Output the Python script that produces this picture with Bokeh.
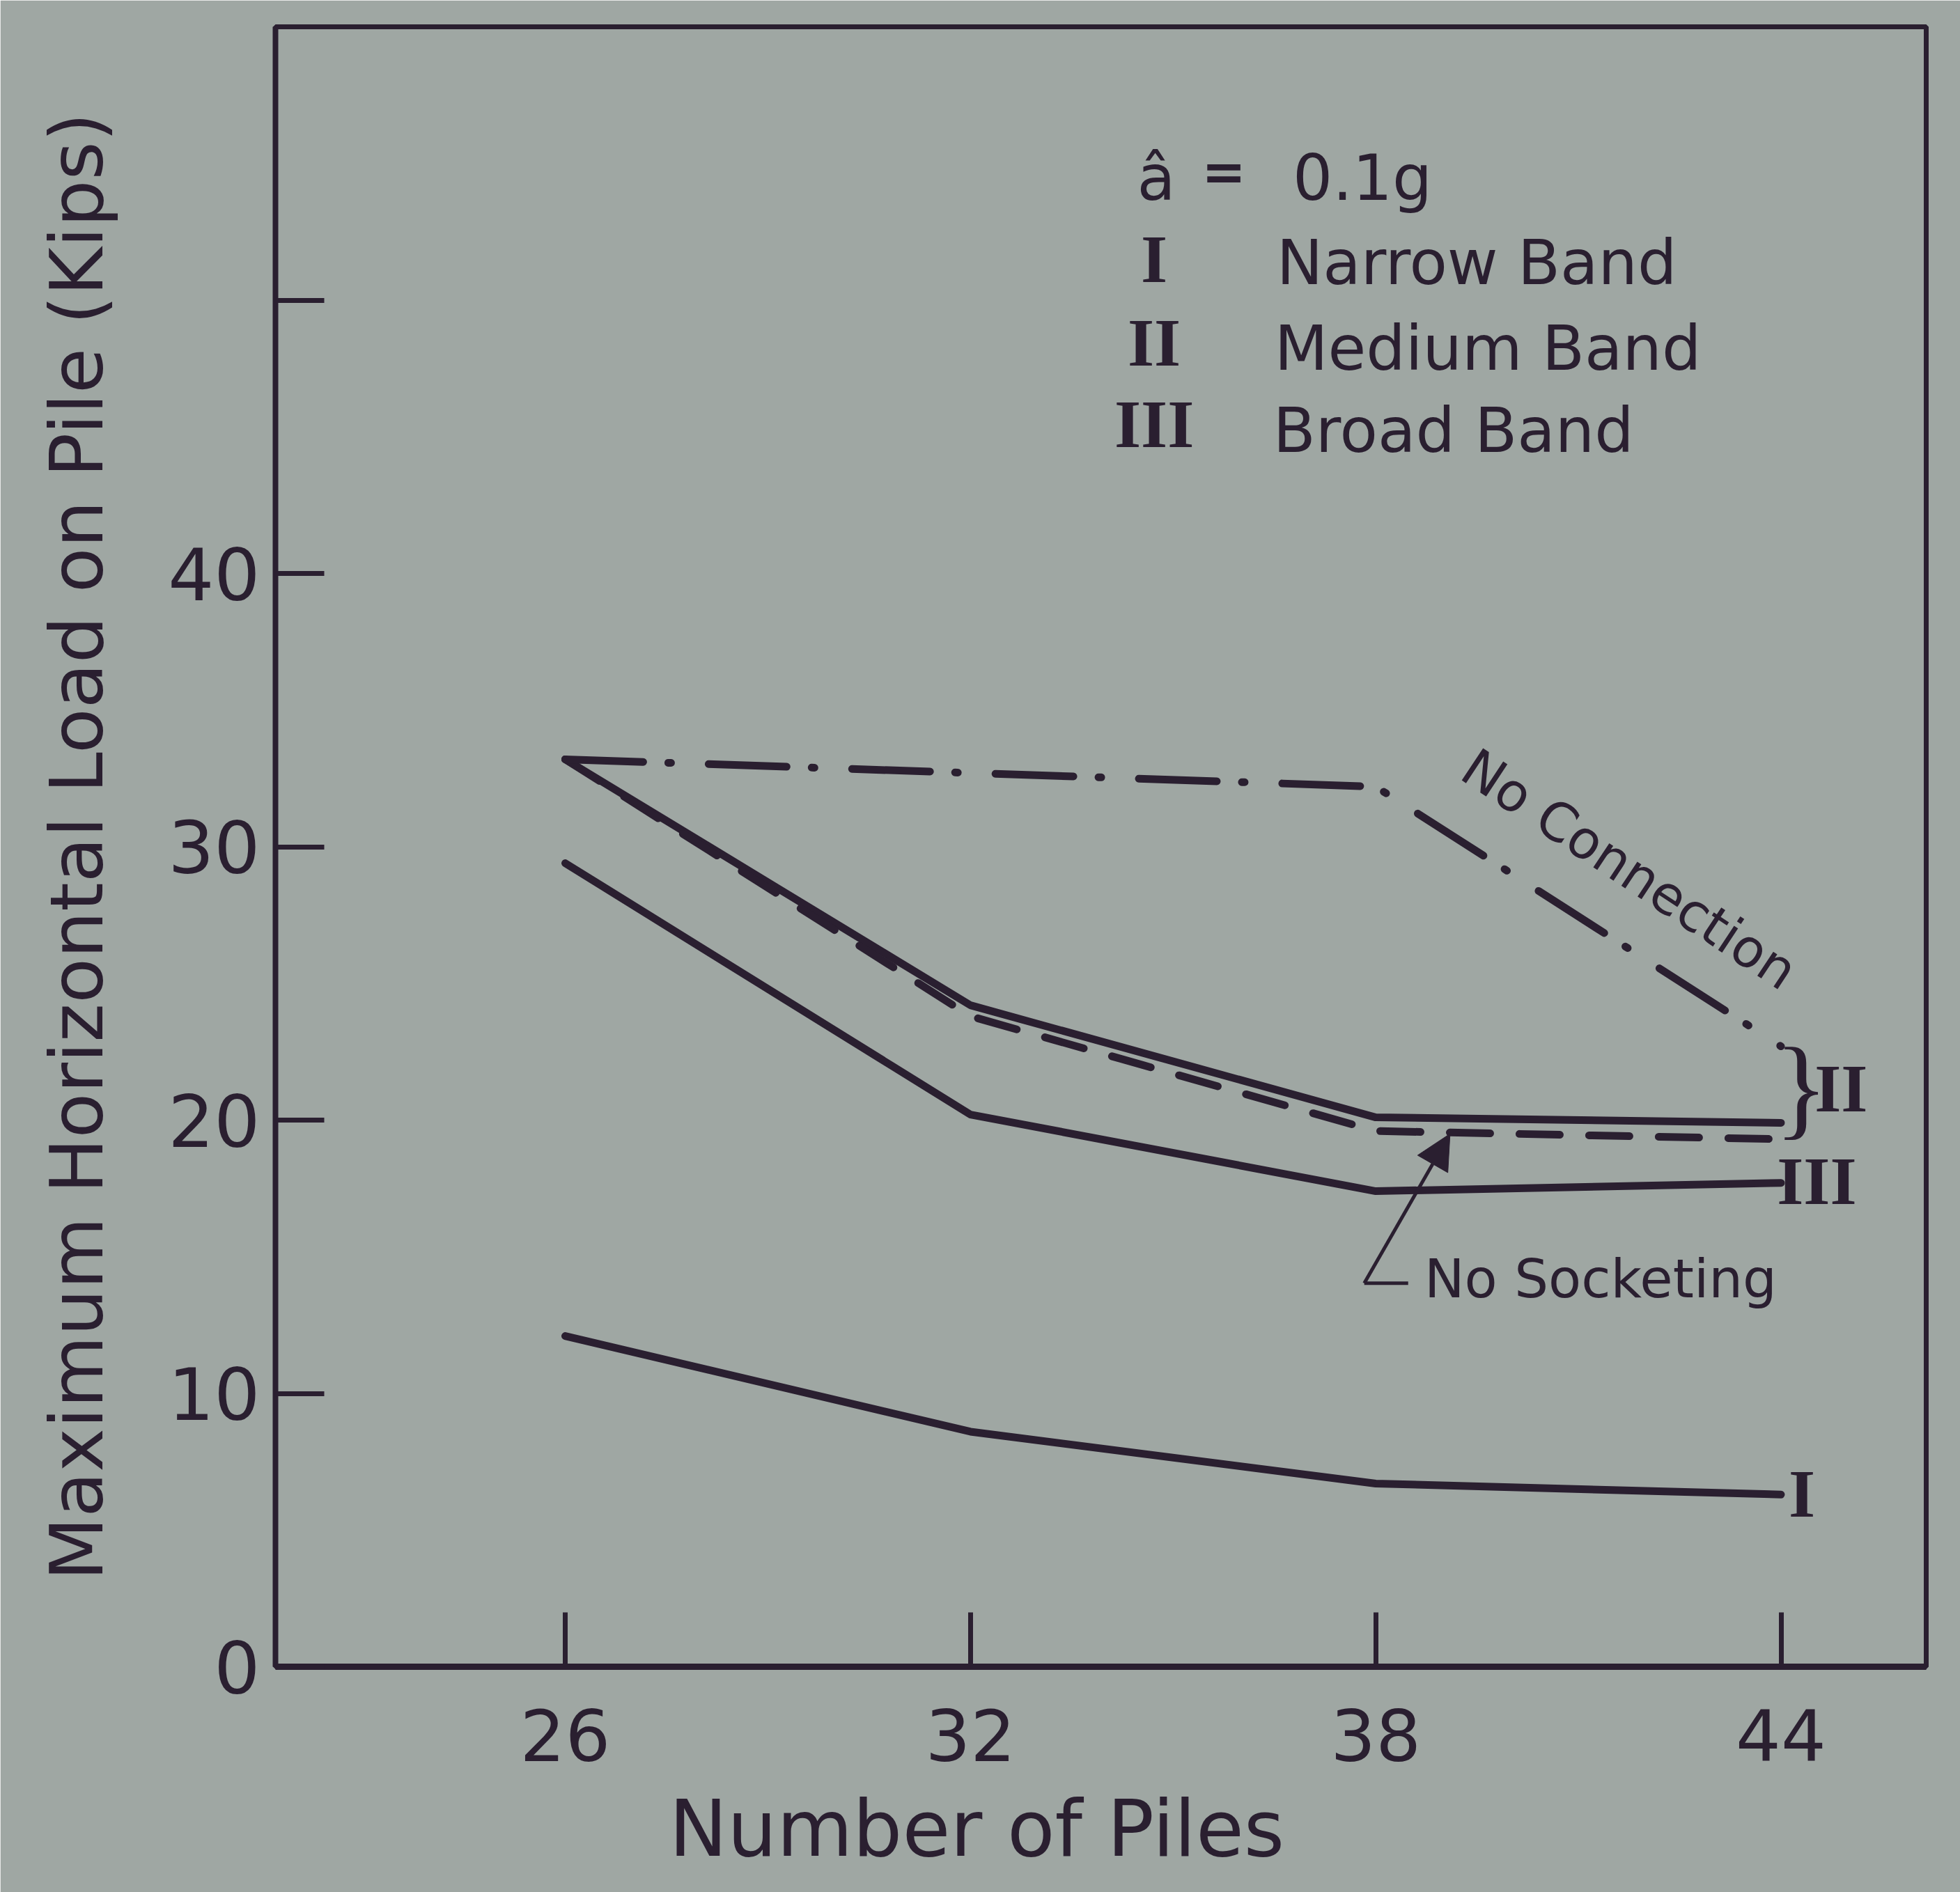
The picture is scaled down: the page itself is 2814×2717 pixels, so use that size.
from bokeh.plotting import figure
from bokeh.models import Label, Arrow, NormalHead, FixedTicker, Range1d, Title
from bokeh.embed import file_html
from bokeh.resources import INLINE

# ---------------- data ----------------
piles = [26, 32, 38, 44]
narrow_band_I = [12.1, 8.6, 6.7, 6.3]
broad_band_III = [29.4, 20.2, 17.4, 17.7]
medium_band_II = [33.2, 24.2, 20.1, 19.9]
medium_no_socketing = [33.2, 23.8, 19.6, 19.3]
no_connection = [33.2, 32.7, 32.2, 22.7]

x_ticks = [26, 32, 38, 44]
y_ticks = [0, 10, 20, 30, 40, 50]
y_tick_labels = ["0", "10", "20", "30", "40", ""]

legend_roman = ["I", "II", "III"]
legend_names = ["Narrow Band", "Medium Band", "Broad Band"]

# ---------------- style ----------------
INK = "#2a1f30"
BG = "#9fa7a3"
FONT = "DejaVu Sans"
SERIF = "Liberation Serif"
LIFT = 0.9  # baseline correction for labels (data units)

p = figure(width=2814, height=2717, output_backend="svg", toolbar_location=None,
           x_range=Range1d(21.71, 46.15), y_range=Range1d(0, 60),
           min_border_left=395, min_border_right=49,
           min_border_top=38, min_border_bottom=322)
p.background_fill_color = BG
p.border_fill_color = BG
p.outline_line_color = INK
p.outline_line_width = 7
p.grid.visible = False

xa = p.xaxis[0]
xa.ticker = FixedTicker(ticks=x_ticks)
xa.major_tick_in = 78
xa.major_tick_out = 0
xa.minor_tick_line_color = None
xa.axis_line_width = 9
xa.axis_line_color = INK
xa.major_tick_line_width = 7
xa.major_tick_line_color = INK
xa.major_label_text_font = FONT
xa.major_label_text_font_size = "102px"
xa.major_label_text_color = INK
xa.major_label_standoff = 60

ya = p.yaxis[0]
ya.ticker = FixedTicker(ticks=y_ticks)
ya.major_label_overrides = dict(zip(y_ticks, y_tick_labels))
ya.major_tick_in = 70
ya.major_tick_out = 0
ya.minor_tick_line_color = None
ya.axis_line_width = 8
ya.axis_line_color = INK
ya.major_tick_line_width = 7
ya.major_tick_line_color = INK
ya.major_label_text_font = FONT
ya.major_label_text_font_size = "104px"
ya.major_label_text_color = INK
ya.major_label_standoff = 22
ya.axis_label = "Maximum Horizontal Load on Pile (Kips)"
ya.axis_label_text_font = FONT
ya.axis_label_text_font_size = "106px"
ya.axis_label_text_font_style = "normal"
ya.axis_label_text_color = INK
ya.axis_label_standoff = 66

# x axis title, placed left of the frame centre as in the original
p.add_layout(Title(text="Number of Piles", align="left", offset=565, standoff=54,
                   text_font=FONT, text_font_size="112px", text_font_style="normal",
                   text_color=INK), "below")

# ---------------- curves ----------------
common = dict(line_color=INK, line_width=11, line_join="round")
p.line(piles, narrow_band_I, line_cap="round", **common)
p.line(piles, broad_band_III, line_cap="round", **common)
p.line(piles, medium_band_II, line_cap="round", **common)
p.line(piles, medium_no_socketing, line_dash="58 42", line_cap="round", **common)
p.line(piles, no_connection, line_dash="112 36 4 54", line_cap="round", **common)


def label(x, y, text, size, font=FONT, align="left", angle=0, style="normal"):
    p.add_layout(Label(x=x, y=y + LIFT, text=text, text_font=font, text_font_size=size,
                       text_color=INK, text_align=align, text_baseline="alphabetic",
                       text_font_style=style, angle=angle, angle_units="deg"))


# legend block
label(34.75, 53.56, "\u00e2", "90px", align="center")
label(35.75, 53.8, "=", "76px", align="center", style="bold")
label(36.77, 53.56, "0.1g", "90px")
legend_y_roman = [50.61, 47.55, 44.56]
legend_y_text = [50.47, 47.33, 44.33]
legend_x_text = [36.53, 36.50, 36.48]
for r, n, yr, yt, xt in zip(legend_roman, legend_names, legend_y_roman, legend_y_text, legend_x_text):
    label(34.72, yr, r, "98px", font=SERIF, align="center", style="bold")
    label(xt, yt, n, "89px")

# curve annotations
label(39.36, 32.2, "No Connection", "76px", angle=-33.5)
label(38.72, 13.3, "No Socketing", "77px")
label(44.30, 20.3, "}", "160px", font=SERIF, align="center")
label(44.89, 20.25, "II", "98px", font=SERIF, align="center", style="bold")
label(44.53, 16.86, "III", "98px", font=SERIF, align="center", style="bold")
label(44.31, 5.42, "I", "98px", font=SERIF, align="center", style="bold")

p.add_layout(Arrow(end=NormalHead(size=50, fill_color=INK, line_color=INK, line_width=1),
                   x_start=37.83, y_start=14.03, x_end=39.1, y_end=19.5,
                   line_color=INK, line_width=5))
p.add_layout(Arrow(end=None, x_start=37.83, y_start=14.03, x_end=38.48, y_end=14.03,
                   line_color=INK, line_width=5))

open("out.html", "w").write(file_html(p, INLINE))
